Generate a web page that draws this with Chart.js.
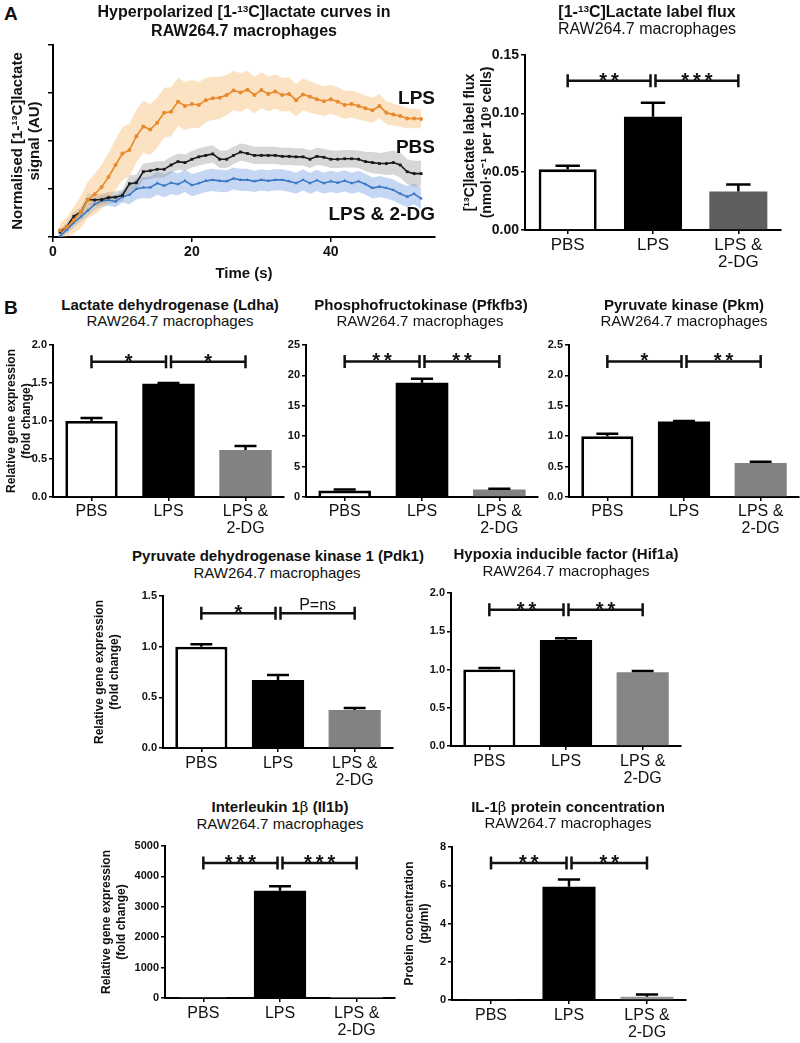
<!DOCTYPE html>
<html lang="en">
<head>
<meta charset="UTF-8">
<title>Hyperpolarized lactate and glycolytic genes in RAW264.7 macrophages</title>
<script src="https://cdn.jsdelivr.net/npm/chart.js"></script>
<style>
  body { margin: 0; background: #fff; font-family: 'Liberation Sans', Arial, sans-serif; }
  #page { position: relative; width: 800px; height: 1043px; overflow: hidden; }
  canvas { position: absolute; }
  .t { position: absolute; transform: translateX(-50%); white-space: nowrap; text-align: center; color: #111; }
  .letter { position: absolute; font-weight: bold; font-size: 19px; color: #111; }
  sup { font-size: 62%; vertical-align: 0.5em; line-height: 0; }
</style>
</head>
<body>
<div id="page">
  <div class="letter" style="left:4px;top:3px">A</div>
  <div class="letter" style="left:4px;top:297px">B</div>
</div>
<script>
// ---- data ----
const groups = ['PBS', 'LPS', ['LPS &', '2-DG']];

const time = [1, 2, 3, 4, 5, 6, 7, 8, 9, 10, 11, 12, 13, 14, 15, 16, 17, 18, 19, 20,
  21, 22, 23, 24, 25, 26, 27, 28, 29, 30, 31, 32, 33, 34, 35, 36, 37, 38, 39, 40,
  41, 42, 43, 44, 45, 46, 47, 48, 49, 50, 51, 52, 53];

const lpsCurve = [0.14, 0.21, 0.35, 0.52, 0.77, 0.89, 1.04, 1.25, 1.50, 1.74,
  1.81, 2.10, 2.30, 2.24, 2.38, 2.59, 2.61, 2.82, 2.73, 2.77,
  2.75, 2.85, 2.89, 2.90, 2.96, 3.05, 3.01, 3.07, 2.96, 3.06,
  2.98, 3.03, 2.96, 2.98, 2.85, 2.97, 2.92, 2.87, 2.83, 2.87,
  2.82, 2.75, 2.77, 2.73, 2.68, 2.64, 2.73, 2.59, 2.55, 2.52,
  2.47, 2.47, 2.46];
const lpsSem = [0.15, 0.20, 0.28, 0.33, 0.38, 0.42, 0.46, 0.50, 0.53, 0.55,
  0.55, 0.55, 0.54, 0.53, 0.52, 0.52, 0.51, 0.50, 0.50, 0.50,
  0.48, 0.46, 0.45, 0.44, 0.42, 0.41, 0.40, 0.39, 0.38, 0.37,
  0.36, 0.36, 0.35, 0.35, 0.34, 0.33, 0.33, 0.32, 0.31, 0.30,
  0.30, 0.29, 0.28, 0.28, 0.27, 0.26, 0.25, 0.24, 0.23, 0.22,
  0.21, 0.20, 0.20];

const pbsCurve = [0.10, 0.22, 0.43, 0.52, 0.78, 0.77, 0.78, 0.82, 0.83, 0.87,
  1.11, 1.13, 1.36, 1.38, 1.41, 1.41, 1.50, 1.57, 1.55, 1.62,
  1.67, 1.70, 1.73, 1.62, 1.62, 1.70, 1.77, 1.74, 1.70, 1.70,
  1.70, 1.70, 1.68, 1.68, 1.67, 1.67, 1.62, 1.68, 1.66, 1.62,
  1.62, 1.63, 1.63, 1.62, 1.57, 1.55, 1.53, 1.53, 1.55, 1.50,
  1.36, 1.32, 1.32];
const pbsSem = [0.06, 0.08, 0.10, 0.10, 0.12, 0.12, 0.12, 0.12, 0.12, 0.12,
  0.17, 0.17, 0.17, 0.17, 0.17, 0.17, 0.17, 0.17, 0.17, 0.17,
  0.18, 0.18, 0.18, 0.18, 0.18, 0.18, 0.18, 0.18, 0.18, 0.18,
  0.18, 0.18, 0.18, 0.18, 0.18, 0.18, 0.18, 0.18, 0.18, 0.18,
  0.18, 0.18, 0.18, 0.18, 0.20, 0.22, 0.22, 0.24, 0.25, 0.26,
  0.26, 0.27, 0.27];

const dgCurve = [0.02, 0.15, 0.30, 0.42, 0.55, 0.68, 0.75, 0.77, 0.74, 0.84,
  0.88, 1.00, 1.03, 1.03, 1.12, 1.07, 1.13, 1.10, 1.17, 1.08,
  1.12, 1.17, 1.19, 1.17, 1.16, 1.22, 1.19, 1.19, 1.16, 1.19,
  1.17, 1.19, 1.19, 1.16, 1.12, 1.19, 1.12, 1.18, 1.12, 1.16,
  1.13, 1.17, 1.12, 1.16, 1.10, 1.02, 1.05, 1.02, 0.98, 0.90,
  0.84, 0.90, 0.80];
const dgSem = [0.06, 0.08, 0.10, 0.10, 0.12, 0.12, 0.12, 0.12, 0.12, 0.12,
  0.20, 0.22, 0.22, 0.23, 0.24, 0.24, 0.24, 0.23, 0.23, 0.23,
  0.23, 0.23, 0.23, 0.23, 0.23, 0.23, 0.23, 0.23, 0.22, 0.22,
  0.22, 0.22, 0.22, 0.22, 0.22, 0.22, 0.22, 0.22, 0.22, 0.22,
  0.22, 0.22, 0.22, 0.22, 0.22, 0.22, 0.22, 0.22, 0.22, 0.22,
  0.22, 0.22, 0.22];

const fluxMean = [0.052, 0.097, 0.033];
const fluxErr = [0.003, 0.012, 0.006];
const ldhaMean = [1.00, 1.49, 0.62];
const ldhaErr = [0.04, 0.01, 0.05];
const pfkMean = [1.05, 18.8, 1.25];
const pfkErr = [0.2, 0.65, 0.1];
const pkmMean = [1.00, 1.24, 0.56];
const pkmErr = [0.04, 0.01, 0.02];
const pdkMean = [1.00, 0.67, 0.375];
const pdkErr = [0.025, 0.05, 0.02];
const hifMean = [1.00, 1.385, 0.965];
const hifErr = [0.02, 0.025, 0.015];
const il1bMean = [1, 3530, 0.5];
const il1bErr = [0, 150, 0];
const protMean = [0.02, 5.92, 0.17];
const protErr = [0, 0.38, 0.12];

// ---- setup ----
const page = document.getElementById('page');
const FONT = "'Liberation Sans', Arial, sans-serif";
Chart.defaults.font.family = FONT;
Chart.defaults.color = '#111';

function makeCanvas(left, top, w, h) {
  const cv = document.createElement('canvas');
  cv.width = w; cv.height = h;
  cv.style.left = left + 'px'; cv.style.top = top + 'px';
  cv.style.width = w + 'px'; cv.style.height = h + 'px';
  page.appendChild(cv);
  return cv;
}

function addText(x, y, size, bold, html) {
  const d = document.createElement('div');
  d.className = 't';
  d.style.left = x + 'px';
  d.style.top = (y - size * 0.6) + 'px';
  d.style.fontSize = size + 'px';
  d.style.lineHeight = (size * 1.2) + 'px';
  d.style.fontWeight = bold ? 'bold' : 'normal';
  d.innerHTML = html;
  page.appendChild(d);
}

// error bars (upper only), drawn over the bars
const errBars = {
  id: 'errBars',
  afterDatasetsDraw(chart, args, o) {
    const { ctx, scales: { y } } = chart;
    const vals = chart.data.datasets[0].data;
    ctx.save();
    ctx.strokeStyle = '#000';
    ctx.lineWidth = 2.5;
    chart.getDatasetMeta(0).data.forEach((bar, i) => {
      const e = o.errors[i];
      if (!e) return;
      const y0 = y.getPixelForValue(vals[i]);
      const y1 = y.getPixelForValue(vals[i] + e);
      const half = bar.width * 0.21;
      ctx.beginPath();
      ctx.moveTo(bar.x, y0); ctx.lineTo(bar.x, y1);
      ctx.moveTo(bar.x - half, y1); ctx.lineTo(bar.x + half, y1);
      ctx.stroke();
    });
    ctx.restore();
  }
};

// significance brackets PBS-LPS and LPS-(LPS & 2-DG)
const brackets = {
  id: 'brackets',
  afterDraw(chart, args, o) {
    const { ctx, scales: { x, y } } = chart;
    const yy = y.getPixelForValue(o.level);
    const xs = [0, 1, 2].map(i => x.getPixelForValue(i));
    const spans = [[xs[0], xs[1] - 2.5], [xs[1] + 2.5, xs[2]]];
    ctx.save();
    ctx.strokeStyle = '#111';
    ctx.fillStyle = '#111';
    ctx.lineWidth = 2.5;
    spans.forEach(([a, b], k) => {
      ctx.beginPath();
      ctx.moveTo(a, yy); ctx.lineTo(b, yy);
      ctx.moveTo(a, yy - 6.5); ctx.lineTo(a, yy + 6.5);
      ctx.moveTo(b, yy - 6.5); ctx.lineTo(b, yy + 6.5);
      ctx.stroke();
      const lab = o.labels[k];
      ctx.textAlign = 'center';
      ctx.textBaseline = 'alphabetic';
      if (lab.includes('*')) {
        ctx.font = 'bold 20px ' + FONT;
        ctx.fillText(lab.split('').join('\u2009'), (a + b) / 2, yy + 6);
      } else {
        ctx.font = '16px ' + FONT;
        ctx.fillText(lab, (a + b) / 2, yy - 3);
      }
    });
    ctx.restore();
  }
};

// ---- line chart (A, left) ----
function curveSets(mean, sem, lineCol, bandCol, style) {
  return [
    { data: time.map((t, i) => ({ x: t, y: mean[i] })), borderColor: lineCol, backgroundColor: lineCol,
      borderWidth: 1.6, pointRadius: 2, pointStyle: style, pointBorderWidth: 0, fill: false, order: 0 },
    { data: time.map((t, i) => ({ x: t, y: mean[i] + sem[i] })), borderWidth: 0, pointRadius: 0, fill: false, order: 1 },
    { data: time.map((t, i) => ({ x: t, y: mean[i] - sem[i] })), borderWidth: 0, pointRadius: 0,
      fill: '-1', backgroundColor: bandCol, order: 1 }
  ];
}

const curveLabels = {
  id: 'curveLabels',
  afterDraw(chart, args, o) {
    const { ctx, chartArea, scales: { y } } = chart;
    ctx.save();
    ctx.font = 'bold 19px ' + FONT;
    ctx.fillStyle = '#111';
    ctx.textAlign = 'right';
    ctx.textBaseline = 'middle';
    o.items.forEach(it => ctx.fillText(it.text, chartArea.right, y.getPixelForValue(it.at)));
    ctx.restore();
  }
};

(function () {
  const cv = makeCanvas(0, 0, 450, 285);
  new Chart(cv, {
    type: 'line',
    data: {
      datasets: [
        ...curveSets(lpsCurve, lpsSem, '#e8892b', 'rgba(245,185,110,0.42)', 'circle'),
        ...curveSets(pbsCurve, pbsSem, '#1a1a1a', 'rgba(150,150,150,0.38)', 'rect'),
        ...curveSets(dgCurve, dgSem, '#3a78c6', 'rgba(110,155,225,0.40)', 'triangle')
      ]
    },
    options: {
      responsive: false, animation: false, devicePixelRatio: 1,
      layout: { padding: { top: 45, right: 15, left: 0, bottom: 0 } },
      plugins: {
        legend: { display: false }, tooltip: { enabled: false },
        curveLabels: { items: [{ text: 'LPS', at: 2.88 }, { text: 'PBS', at: 1.85 }, { text: 'LPS & 2-DG', at: 0.46 }] }
      },
      scales: {
        x: {
          type: 'linear', min: 0, max: 55,
          afterBuildTicks: s => { s.ticks = s.ticks.filter(t => t.value % 20 === 0); },
          ticks: { stepSize: 20, font: { size: 14, weight: 'bold', lineHeight: 1.2 }, padding: 2 },
          grid: { drawOnChartArea: false, tickLength: 5, color: '#000', lineWidth: 1.5 },
          border: { color: '#000', width: 2 },
          title: { display: true, text: 'Time (s)', font: { size: 15, weight: 'bold', lineHeight: 1.2 }, padding: { top: 0, bottom: 2 } },
          afterFit: s => { s.height = 48; }
        },
        y: {
          min: 0, max: 4,
          ticks: { stepSize: 1, display: false },
          grid: { drawOnChartArea: false, tickLength: 5, color: '#000', lineWidth: 1.5 },
          border: { color: '#000', width: 2 },
          title: { display: true, text: ['Normalised [1-\u00b9\u00b3C]lactate', 'signal (AU)'],
            font: { size: 15, weight: 'bold', lineHeight: 1.15 }, padding: { top: 9.4, bottom: 0 } },
          afterFit: s => { s.width = 53; }
        }
      }
    },
    plugins: [curveLabels]
  });
})();

// ---- bar charts ----
function barChart(box, values, errors, colors, axis, sig, yTitle) {
  const padTop = 12, padRight = 12, xh = 50;
  const w = box.r - box.l + box.yw + padRight;
  const h = box.b - box.t + padTop + xh;
  const cv = makeCanvas(box.l - box.yw, box.t - padTop, w, h);
  const titleSize = box.titleSize || 12;
  const titleLH = titleSize * 1.2;
  new Chart(cv, {
    type: 'bar',
    data: {
      labels: groups,
      datasets: [{
        data: values,
        backgroundColor: colors,
        borderColor: '#000',
        borderWidth: [2.8, 0, 0],
        barPercentage: 0.68,
        categoryPercentage: 1
      }]
    },
    options: {
      responsive: false, animation: false, devicePixelRatio: 1,
      layout: { padding: { top: padTop, right: padRight, left: 0, bottom: 0 } },
      plugins: {
        legend: { display: false }, tooltip: { enabled: false },
        errBars: { errors },
        brackets: sig
      },
      scales: {
        x: {
          offset: true,
          ticks: { font: { size: box.lab, lineHeight: 1.05 }, padding: box.labPad, maxRotation: 0, autoSkip: false },
          grid: { drawOnChartArea: false, offset: false, tickLength: 4, color: '#000', lineWidth: 1.5 },
          border: { color: '#000', width: 2 },
          afterFit: s => { s.height = xh; }
        },
        y: {
          min: 0, max: axis.max,
          ticks: { stepSize: axis.step, callback: v => v.toFixed(axis.dec),
            font: { size: box.tick, weight: 'bold' }, padding: 2 },
          grid: { drawOnChartArea: false, tickLength: 4, color: '#000', lineWidth: 1.5 },
          border: { color: '#000', width: 2 },
          title: yTitle ? { display: true, text: yTitle, font: { size: titleSize, weight: 'bold', lineHeight: 1.2 },
            padding: { top: box.titleX - (box.l - box.yw) - titleLH / 2, bottom: 0 } } : { display: false },
          afterFit: s => { s.width = box.yw; }
        }
      }
    },
    plugins: [errBars, brackets]
  });
}

const geneTitle = ['Relative gene expression', '(fold change)'];

barChart({ l: 525, t: 55, r: 781, b: 230, yw: 65, titleX: 470, titleSize: 14, tick: 14, lab: 17, labPad: 2 },
  fluxMean, fluxErr, ['#ffffff', '#000000', '#5e5e5e'], { max: 0.15, step: 0.05, dec: 2 },
  { level: 0.128, labels: ['**', '***'] }, ['[\u00b9\u00b3C]lactate label flux', '(nmol\u00b7s\u207b\u00b9 per 10\u2079 cells)']);

barChart({ l: 53, t: 345, r: 284, b: 497, yw: 53, titleX: 12, tick: 11, lab: 16, labPad: 2 },
  ldhaMean, ldhaErr, ['#ffffff', '#000000', '#828282'], { max: 2, step: 0.5, dec: 1 },
  { level: 1.78, labels: ['*', '*'] }, geneTitle);

barChart({ l: 306, t: 345, r: 538, b: 497, yw: 40, tick: 11, lab: 16, labPad: 2 },
  pfkMean, pfkErr, ['#ffffff', '#000000', '#828282'], { max: 25, step: 5, dec: 0 },
  { level: 22.3, labels: ['**', '**'] }, null);

barChart({ l: 569, t: 345, r: 799, b: 497, yw: 40, tick: 11, lab: 16, labPad: 2 },
  pkmMean, pkmErr, ['#ffffff', '#000000', '#828282'], { max: 2.5, step: 0.5, dec: 1 },
  { level: 2.23, labels: ['*', '**'] }, null);

barChart({ l: 163, t: 596, r: 393, b: 748, yw: 70, titleX: 100, tick: 11, lab: 16, labPad: 3 },
  pdkMean, pdkErr, ['#ffffff', '#000000', '#828282'], { max: 1.5, step: 0.5, dec: 1 },
  { level: 1.33, labels: ['*', 'P=ns'] }, geneTitle);

barChart({ l: 451, t: 593, r: 681, b: 746, yw: 40, tick: 11, lab: 16, labPad: 3 },
  hifMean, hifErr, ['#ffffff', '#000000', '#858585'], { max: 2, step: 0.5, dec: 1 },
  { level: 1.78, labels: ['**', '**'] }, null);

barChart({ l: 165, t: 846, r: 395, b: 998, yw: 70, titleX: 107, tick: 11, lab: 16, labPad: 3 },
  il1bMean, il1bErr, ['#ffffff', '#000000', '#828282'], { max: 5000, step: 1000, dec: 0 },
  { level: 4440, labels: ['***', '***'] }, geneTitle);

barChart({ l: 452, t: 847, r: 686, b: 1000, yw: 50, titleX: 410, tick: 11, lab: 16, labPad: 3 },
  protMean, protErr, ['#ffffff', '#000000', '#999999'], { max: 8, step: 2, dec: 0 },
  { level: 7.16, labels: ['**', '**'] }, ['Protein concentration', '(pg/ml)']);

// ---- panel titles ----
addText(244, 12, 16, true, 'Hyperpolarized [1-<sup>13</sup>C]lactate curves in');
addText(244, 31, 16, true, 'RAW264.7 macrophages');
addText(647, 12, 16, true, '[1-<sup>13</sup>C]Lactate label flux');
addText(647, 29, 16, false, 'RAW264.7 macrophages');

addText(170, 305, 15, true, 'Lactate dehydrogenase (Ldha)');
addText(170, 321, 15, false, 'RAW264.7 macrophages');
addText(421, 305, 15, true, 'Phosphofructokinase (Pfkfb3)');
addText(420, 321, 15, false, 'RAW264.7 macrophages');
addText(684, 305, 15, true, 'Pyruvate kinase (Pkm)');
addText(684, 321, 15, false, 'RAW264.7 macrophages');

addText(278, 556, 15, true, 'Pyruvate dehydrogenase kinase 1 (Pdk1)');
addText(277, 573, 15, false, 'RAW264.7 macrophages');
addText(566, 554, 15, true, 'Hypoxia inducible factor (Hif1a)');
addText(566, 571, 15, false, 'RAW264.7 macrophages');

addText(280, 807, 15, true, 'Interleukin 1<span style="font-weight:normal;font-family:\'DejaVu Serif\',serif">\u03b2</span> (Il1b)');
addText(280, 824, 15, false, 'RAW264.7 macrophages');
addText(568, 807, 15, true, 'IL-1<span style="font-weight:normal;font-family:\'DejaVu Serif\',serif">\u03b2</span> protein concentration');
addText(568, 823, 15, false, 'RAW264.7 macrophages');
</script>
</body>
</html>
